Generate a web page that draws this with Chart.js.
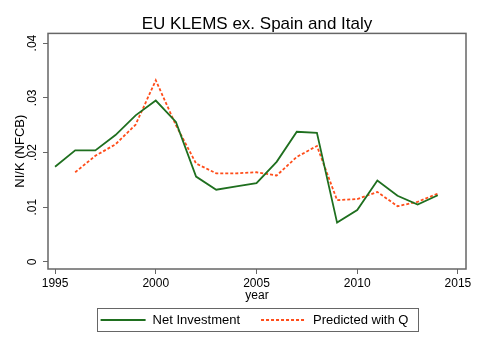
<!DOCTYPE html>
<html>
<head>
<meta charset="utf-8">
<title>EU KLEMS ex. Spain and Italy</title>
<script src="https://cdn.jsdelivr.net/npm/chart.js@4/dist/chart.umd.min.js"></script>
<style>
  body { margin: 0; background: #fff; }
  #wrap { width: 479px; height: 348px; }
</style>
</head>
<body>
<div id="wrap"><canvas id="myChart" width="479" height="348"></canvas></div>
<script>
'use strict';

// Data
const years = [1995, 1996, 1997, 1998, 1999, 2000, 2001, 2002, 2003, 2004,
  2005, 2006, 2007, 2008, 2009, 2010, 2011, 2012, 2013, 2014];
const netInvestment = [0.0174, 0.0204, 0.0204, 0.0232, 0.0268, 0.0295, 0.0256, 0.0156, 0.0132, 0.0138,
  0.0144, 0.0183, 0.0238, 0.0236, 0.0072, 0.0095, 0.0149, 0.0121, 0.0105, 0.0122];
const predictedQ = [null, 0.0164, 0.0194, 0.0215, 0.0251, 0.0332, 0.0250, 0.0180, 0.0162, 0.0162,
  0.0164, 0.0158, 0.0192, 0.0212, 0.0113, 0.0115, 0.0128, 0.0102, 0.0110, 0.0125];
const xTicks = [1995, 2000, 2005, 2010, 2015];
const yTicks = [0, 0.01, 0.02, 0.03, 0.04];

const green = '#1f6f1f';
const orange = '#ff4d1a';
const frameGray = '#666666';

Chart.defaults.font.family = '"Liberation Sans", Arial, sans-serif';
Chart.defaults.color = '#000';

function toPoints(values){
  let pts = [];
  for(let i = 0; i < years.length; i++){
    if(values[i] !== null){
      pts.push({x: years[i], y: values[i]});
    }
  }
  return pts;
}

// box round the plot region
const frame = {
  id: 'frame',
  afterDatasetsDraw(chart){
    const a = chart.chartArea;
    const c = chart.ctx;
    c.save();
    c.strokeStyle = frameGray;
    c.lineWidth = 1.5;
    c.strokeRect(a.left, a.top, a.right - a.left, a.bottom - a.top);
    c.restore();
  }
};

// boxed legend under the x axis title
const boxLegend = {
  id: 'boxLegend',
  afterDraw(chart){
    const c = chart.ctx;
    const a = chart.chartArea;
    const sets = chart.data.datasets;
    const lineLen = 45, textGap = 7, itemGap = 21;
    c.save();
    c.font = '13px "Liberation Sans", Arial, sans-serif';
    let widths = sets.map(d => lineLen + textGap + c.measureText(d.label).width);
    let content = widths.reduce((s, w) => s + w, 0) + itemGap * (sets.length - 1);
    let boxW = content + 13;
    let boxL = (a.left + a.right) / 2 - boxW / 2;
    let boxT = 308, boxH = 23;
    c.strokeStyle = frameGray;
    c.lineWidth = 1;
    c.strokeRect(Math.round(boxL) + 0.5, boxT + 0.5, Math.round(boxW), boxH);
    let x = boxL + 4;
    let midY = boxT + boxH / 2 + 0.5;
    for(let i = 0; i < sets.length; i++){
      c.beginPath();
      c.setLineDash(sets[i].borderDash || []);
      c.strokeStyle = sets[i].borderColor;
      c.lineWidth = sets[i].borderWidth;
      c.moveTo(x, midY);
      c.lineTo(x + lineLen, midY);
      c.stroke();
      c.setLineDash([]);
      c.fillStyle = '#000';
      c.textBaseline = 'middle';
      c.fillText(sets[i].label, x + lineLen + textGap, midY);
      x += widths[i] + itemGap;
    }
    c.restore();
  }
};

const ctx = document.getElementById('myChart');

new Chart(ctx, {
  type: 'line',
  data: {
    datasets: [{
      label: 'Net Investment',
      data: toPoints(netInvestment),
      borderColor: green,
      backgroundColor: green,
      borderWidth: 1.8,
      pointRadius: 0,
      tension: 0,
      fill: false
    },
    {
      label: 'Predicted with Q',
      data: toPoints(predictedQ),
      borderColor: orange,
      backgroundColor: orange,
      borderWidth: 1.8,
      borderDash: [3, 2],
      pointRadius: 0,
      tension: 0,
      fill: false
    }]
  },
  options: {
    responsive: false,
    animation: false,
    layout: {
      padding: {left: 0, right: 13, top: 0, bottom: 39}
    },
    plugins: {
      legend: { display: false },
      tooltip: { enabled: false },
      title: {
        display: true,
        text: 'EU KLEMS ex. Spain and Italy',
        fullSize: false,
        color: '#000',
        font: { size: 17, weight: 'normal', lineHeight: 1.2 },
        padding: { top: 14, bottom: -1 }
      }
    },
    scales: {
      x: {
        type: 'linear',
        min: 1994.65,
        max: 2015.4,
        afterBuildTicks: s => { s.ticks = xTicks.map(v => ({value: v})); },
        afterFit: s => { s.height = 40; },
        border: { display: false },
        grid: { drawOnChartArea: false, drawTicks: true, tickLength: 5, color: frameGray },
        ticks: {
          padding: 2,
          maxRotation: 0,
          font: { size: 12 },
          color: '#000',
          callback: v => String(v)
        },
        title: {
          display: true,
          text: 'year',
          color: '#000',
          font: { size: 12 },
          padding: { top: 0, bottom: 6.5 }
        }
      },
      y: {
        type: 'linear',
        min: -0.00128,
        max: 0.04177,
        afterBuildTicks: s => { s.ticks = yTicks.map(v => ({value: v})); },
        afterFit: s => { s.width = 48; },
        border: { display: false },
        grid: { drawOnChartArea: false, drawTicks: true, tickLength: 5, color: frameGray },
        ticks: {
          padding: 2.2,
          minRotation: 90,
          maxRotation: 90,
          crossAlign: 'center',
          font: { size: 12 },
          color: '#000',
          callback: v => v === 0 ? '0' : v.toFixed(2).replace('0.', '.')
        },
        title: {
          display: true,
          text: 'NI/K (NFCB)',
          color: '#000',
          font: { size: 13 },
          padding: { top: 13, bottom: 0 }
        }
      }
    }
  },
  plugins: [frame, boxLegend]
});
</script>
</body>
</html>
